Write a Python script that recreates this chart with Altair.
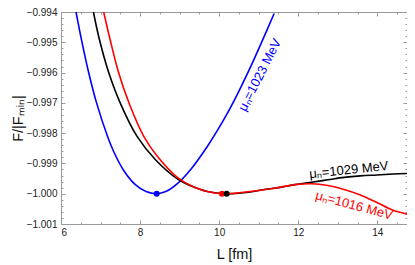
import altair as alt
import pandas as pd

# ---- data ----
blue_L = [6.38, 6.52, 6.68, 6.89, 7.18, 7.34, 7.59, 7.88, 8.15, 8.42, 8.65, 8.95, 9.28,
          9.70, 10.02, 10.23, 10.50, 10.77, 11.10, 11.39]
blue_F = [-0.99400, -0.99493, -0.99589, -0.99696, -0.99812, -0.99863, -0.99924, -0.99970,
          -0.99993, -1.00000, -0.99993, -0.99966, -0.99920, -0.99844, -0.99777, -0.99729,
          -0.99661, -0.99588, -0.99492, -0.99405]

black_L = [6.82, 6.97, 7.20, 7.51, 7.92, 8.39, 8.95, 9.28, 9.70, 10.19, 10.69, 11.10,
           11.51, 11.92, 12.34, 12.75, 13.16, 13.57, 13.99, 14.40, 14.77]
black_F = [-0.99400, -0.99490, -0.99597, -0.99704, -0.99810, -0.99888, -0.99952, -0.99974,
           -0.99993, -1.00000, -0.99996, -0.99987, -0.99980, -0.99970, -0.99962, -0.99954,
           -0.99946, -0.99941, -0.99938, -0.99935, -0.99933]

red_L = [7.08, 7.24, 7.45, 7.73, 8.09, 8.42, 8.95, 9.28, 9.70, 10.07, 10.50, 11.10, 11.51,
         11.92, 12.34, 12.75, 13.16, 13.57, 13.99, 14.40, 14.77]
red_F = [-0.99400, -0.99490, -0.99597, -0.99704, -0.99810, -0.99874, -0.99947, -0.99973,
         -0.99993, -1.00000, -0.99997, -0.99988, -0.99979, -0.99970, -0.99967, -0.99973,
         -0.99986, -1.00004, -1.00029, -1.00055, -1.00068]

min_L = [8.42, 10.07, 10.19]
min_F = [-1.00000, -1.00000, -1.00000]
min_color = ["#0000ff", "#ff0000", "#000000"]

label_text = ["μₙ=1023 MeV", "μₙ=1029 MeV", "μₙ=1016 MeV"]
label_L = [11.03, 13.28, 13.41]
label_F = [-0.99608, -0.99922, -1.00039]
label_angle = [297, 354, 15]
label_color = ["#0000ff", "#000000", "#ff0000"]

x_major = [6, 8, 10, 12, 14]
x_minor = [6 + 0.5 * i for i in range(18)]
y_major = [round(-1.001 + 0.001 * i, 3) for i in range(8)]
y_minor = [round(-1.001 + 0.0002 * i, 4) for i in range(36)]

FRAME = "#9a9a9a"
FONT = "Liberation Sans"

xs = alt.Scale(domain=[6, 14.75], nice=False, zero=False)
ys = alt.Scale(domain=[-1.001, -0.994], nice=False, zero=False)


def tick_axis(orient, values, size, **kw):
    return alt.Axis(orient=orient, values=values, offset=-size, tickSize=size,
                    tickColor=FRAME, tickWidth=1, domain=False, grid=False,
                    labels=False, title=None, **kw)


ax_bottom = alt.Axis(orient="bottom", values=x_major, offset=-4, tickSize=4,
                     tickColor=FRAME, tickWidth=1, domain=False, grid=False,
                     format="d", labelFont=FONT, labelFontSize=10, labelColor="#222222",
                     labelPadding=3, title="L [fm]", titleFont=FONT, titleFontSize=14.5,
                     titleFontWeight="normal", titleColor="#111111", titlePadding=10)
ax_left = alt.Axis(orient="left", values=y_major, offset=-4, tickSize=4,
                   tickColor=FRAME, tickWidth=1, domain=False, grid=False,
                   format=".3f", labelFont=FONT, labelFontSize=10, labelColor="#222222",
                   labelPadding=4, title="F/|Fₘᵢₙ|", titleFont=FONT, titleFontSize=14.5,
                   titleFontWeight="normal", titleColor="#111111", titlePadding=1)

blue_df = pd.DataFrame({"L": blue_L, "F": blue_F})
black_df = pd.DataFrame({"L": black_L, "F": black_F})
red_df = pd.DataFrame({"L": red_L, "F": red_F})
min_df = pd.DataFrame({"L": min_L, "F": min_F, "c": min_color})
lab_df = pd.DataFrame({"L": label_L, "F": label_F, "t": label_text,
                       "a": label_angle, "c": label_color})

line_kw = dict(strokeWidth=1.6, interpolate="catmull-rom", clip=True)

blue = alt.Chart(blue_df).mark_line(color="#0000ff", **line_kw).encode(
    x=alt.X("L:Q", scale=xs, axis=ax_bottom),
    y=alt.Y("F:Q", scale=ys, axis=ax_left),
)
black = alt.Chart(black_df).mark_line(color="#000000", **line_kw).encode(
    x=alt.X("L:Q", scale=xs, axis=tick_axis("bottom", x_minor, 2)),
    y=alt.Y("F:Q", scale=ys, axis=tick_axis("left", y_minor, 2)),
)
red = alt.Chart(red_df).mark_line(color="#ff0000", **line_kw).encode(
    x=alt.X("L:Q", scale=xs, axis=tick_axis("top", x_major, 4)),
    y=alt.Y("F:Q", scale=ys, axis=tick_axis("right", y_major, 4)),
)
dots = alt.Chart(min_df).mark_point(filled=True, size=36, opacity=1).encode(
    x=alt.X("L:Q", scale=xs, axis=tick_axis("top", x_minor, 2)),
    y=alt.Y("F:Q", scale=ys, axis=tick_axis("right", y_minor, 2)),
    color=alt.Color("c:N", scale=None),
)
labels = alt.Chart(lab_df).mark_text(font=FONT, fontSize=13, align="center",
                                     baseline="middle").encode(
    x=alt.X("L:Q", scale=xs, axis=None),
    y=alt.Y("F:Q", scale=ys, axis=None),
    text="t:N",
    angle=alt.Angle("a:Q", scale=None),
    color=alt.Color("c:N", scale=None),
)

chart = alt.layer(blue, black, red, dots, labels).resolve_axis(
    x="independent", y="independent"
).properties(
    width=346, height=212,
    padding={"left": 53, "top": 4, "right": 0, "bottom": 41},
    autosize=alt.AutoSizeParams(type="none"),
).configure_view(stroke=FRAME, strokeWidth=1)

chart.save("out.html", embed_options={"renderer": "svg", "actions": False})
